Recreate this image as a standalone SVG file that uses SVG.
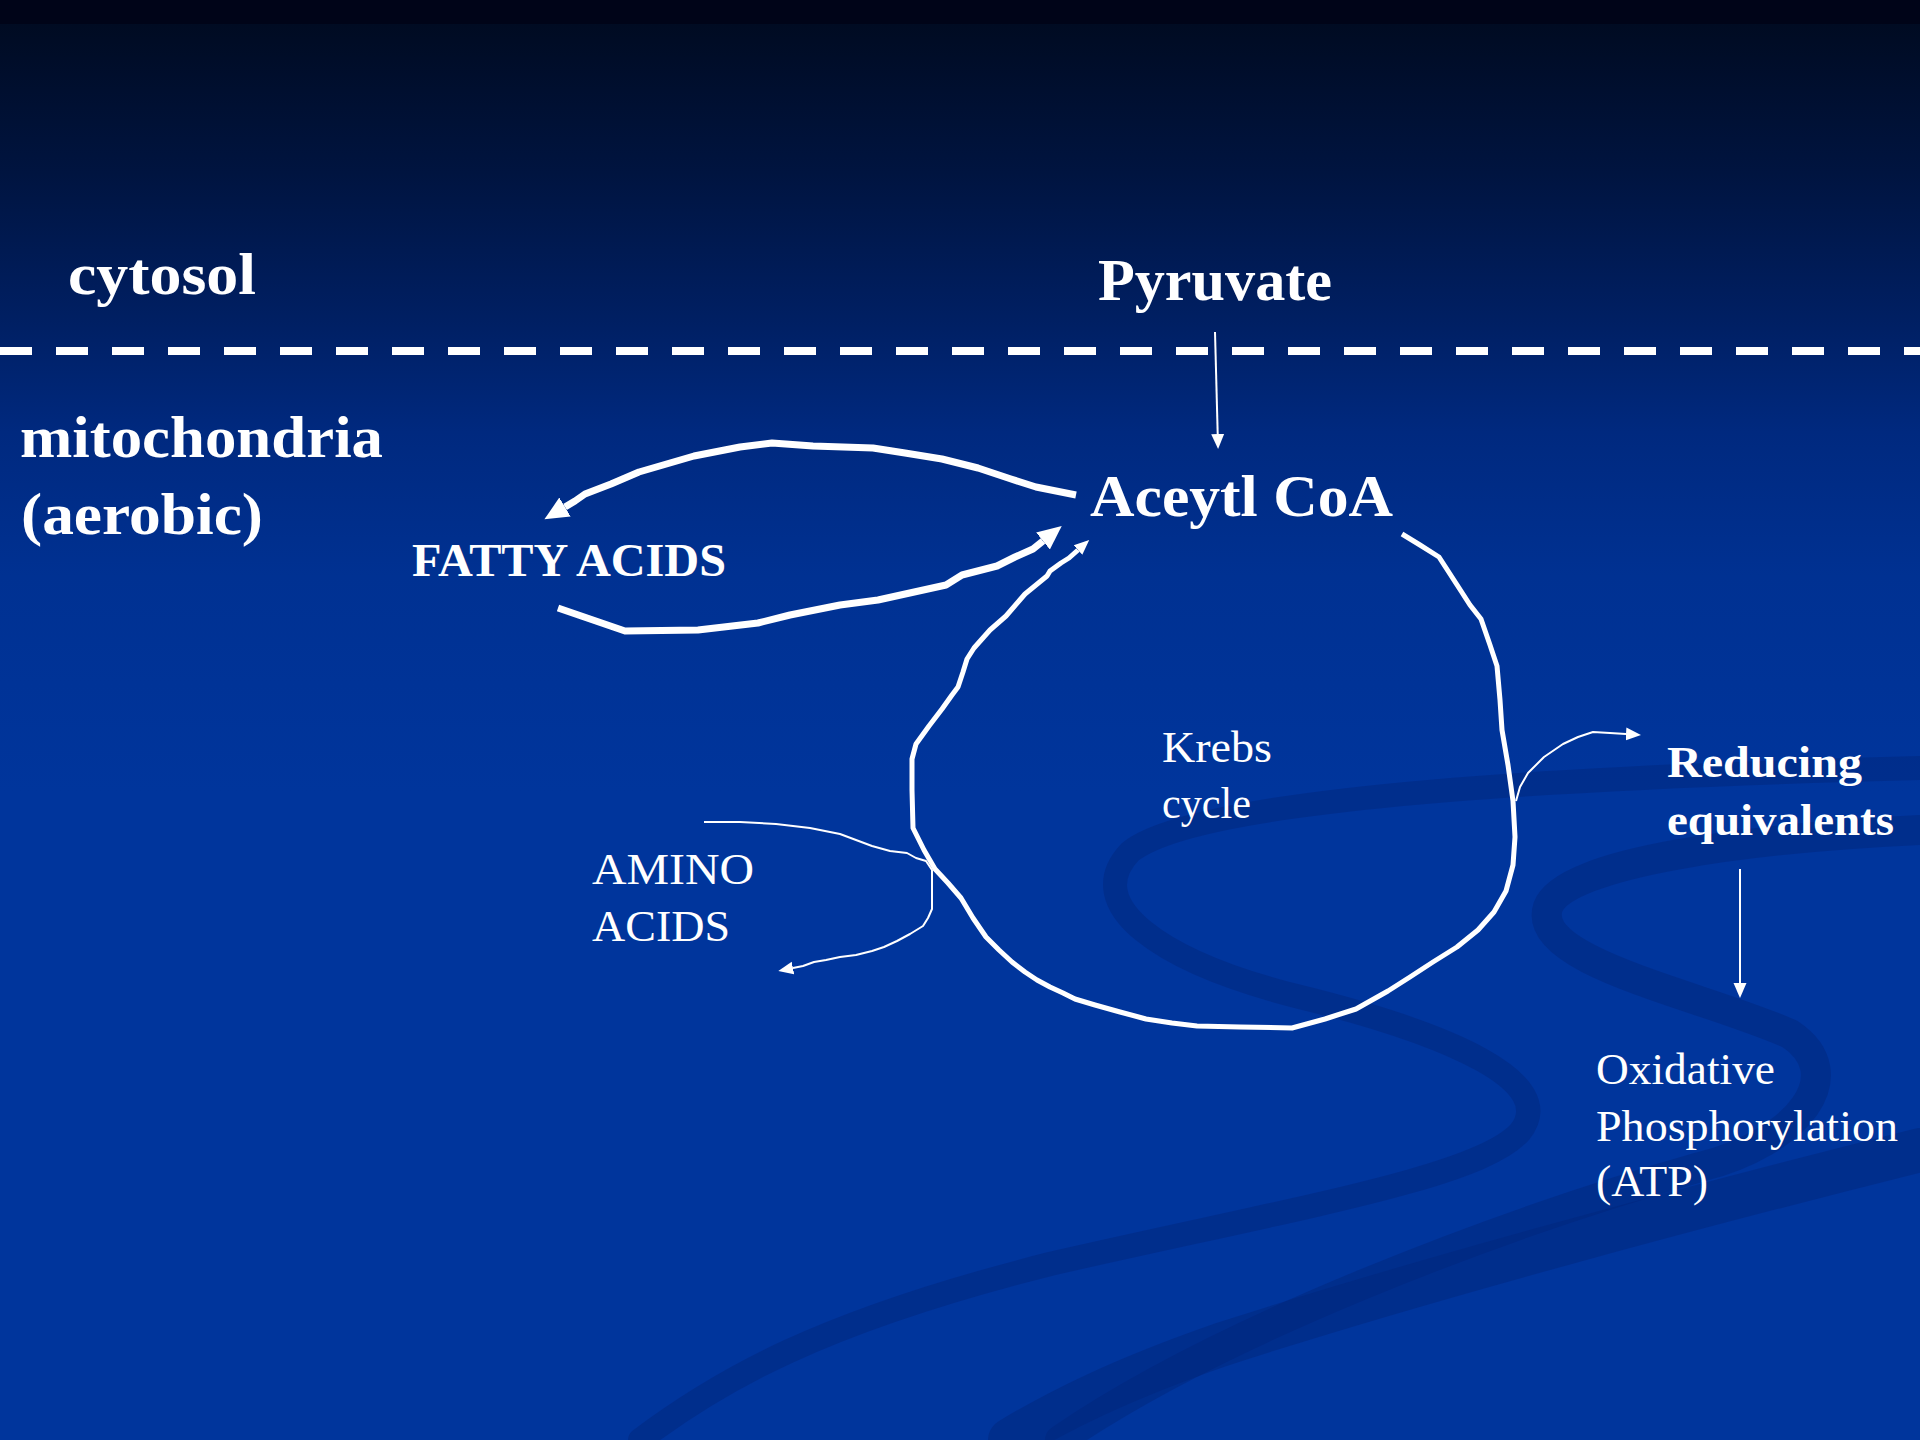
<svg xmlns="http://www.w3.org/2000/svg" width="1920" height="1440" viewBox="0 0 1920 1440">
  <defs>
    <linearGradient id="bg" x1="0" y1="0" x2="0" y2="1440" gradientUnits="userSpaceOnUse">
      <stop offset="0" stop-color="#000418"/>
      <stop offset="0.0166" stop-color="#000418"/>
      <stop offset="0.0167" stop-color="#000b22"/>
      <stop offset="0.12" stop-color="#001440"/>
      <stop offset="0.22" stop-color="#001f62"/>
      <stop offset="0.30" stop-color="#00297f"/>
      <stop offset="0.40" stop-color="#003192"/>
      <stop offset="0.55" stop-color="#00359c"/>
      <stop offset="1" stop-color="#00359c"/>
    </linearGradient>
    <marker id="ahS" viewBox="0 -8 16 16" refX="0" refY="0" markerWidth="16" markerHeight="16" markerUnits="userSpaceOnUse" orient="auto">
      <path d="M0,-6.5 L15,0 L0,6.5 z" fill="#ffffff"/>
    </marker>
    <marker id="ahL" viewBox="0 -12 25 24" refX="0" refY="0" markerWidth="25" markerHeight="24" markerUnits="userSpaceOnUse" orient="auto">
      <path d="M0,-11 L24,0 L0,11 z" fill="#ffffff"/>
    </marker>
  </defs>
  <style>
    .bold { font-family: "Liberation Serif", "DejaVu Serif", serif; font-weight: bold; fill: #ffffff; }
    .reg { font-family: "Liberation Serif", "DejaVu Serif", serif; font-weight: normal; fill: #ffffff; font-size: 45px; }
    .swoosh { fill: none; stroke: #00267a; stroke-opacity: 0.45; stroke-linecap: round; }
    .thick { fill: none; stroke: #ffffff; stroke-width: 7; stroke-linejoin: round; }
    .mid { fill: none; stroke: #ffffff; stroke-width: 5; stroke-linejoin: round; }
    .thin { fill: none; stroke: #ffffff; stroke-width: 2; stroke-linejoin: round; }
  </style>

  <rect x="0" y="0" width="1920" height="1440" fill="url(#bg)"/>

  <g id="background-swooshes">
    <path class="swoosh" stroke-width="24" d="M1920,768 C1600,776 1200,795 1130,852 C1080,905 1160,962 1300,997 C1450,1034 1560,1082 1520,1132 C1480,1177 1300,1207 1050,1264 C820,1322 720,1380 640,1440"/>
    <path class="swoosh" stroke-width="30" d="M1920,830 C1750,838 1565,862 1548,907 C1530,962 1700,994 1790,1034 C1850,1074 1800,1142 1700,1167 C1500,1224 1220,1330 1060,1440"/>
    <path class="swoosh" stroke-width="44" d="M1920,1150 C1700,1205 1420,1280 1220,1345 C1120,1380 1060,1410 1010,1440"/>
  </g>

  <g id="membrane">
    <line x1="0" y1="351" x2="1920" y2="351" stroke="#ffffff" stroke-width="8" stroke-dasharray="32 24"/>
  </g>

  <g id="node-cytosol"><text class="bold" x="68" y="294" font-size="60" textLength="188" lengthAdjust="spacingAndGlyphs">cytosol</text></g>
  <g id="node-pyruvate"><text class="bold" x="1098" y="300" font-size="60" textLength="234" lengthAdjust="spacingAndGlyphs">Pyruvate</text></g>
  <g id="node-mitochondria">
    <text class="bold" x="20" y="457" font-size="60" textLength="363" lengthAdjust="spacingAndGlyphs">mitochondria</text>
    <text class="bold" x="21" y="534" font-size="60" textLength="242" lengthAdjust="spacingAndGlyphs">(aerobic)</text>
  </g>
  <g id="node-acetylcoa"><text class="bold" x="1090" y="516" font-size="60" textLength="303" lengthAdjust="spacingAndGlyphs">Aceytl CoA</text></g>
  <g id="node-fattyacids"><text class="bold" x="412" y="576" font-size="46" textLength="314" lengthAdjust="spacingAndGlyphs">FATTY ACIDS</text></g>
  <g id="node-krebs">
    <text class="reg" x="1162" y="762" textLength="110" lengthAdjust="spacingAndGlyphs">Krebs</text>
    <text class="reg" x="1162" y="818" textLength="89" lengthAdjust="spacingAndGlyphs">cycle</text>
  </g>
  <g id="node-aminoacids">
    <text class="reg" x="592" y="884" font-size="46" textLength="162" lengthAdjust="spacingAndGlyphs">AMINO</text>
    <text class="reg" x="592" y="941" font-size="46" textLength="138" lengthAdjust="spacingAndGlyphs">ACIDS</text>
  </g>
  <g id="node-reducing">
    <text class="bold" x="1667" y="777" font-size="45" textLength="195" lengthAdjust="spacingAndGlyphs">Reducing</text>
    <text class="bold" x="1667" y="835" font-size="45" textLength="227" lengthAdjust="spacingAndGlyphs">equivalents</text>
  </g>
  <g id="node-oxphos">
    <text class="reg" x="1596" y="1084" font-size="48" textLength="179" lengthAdjust="spacingAndGlyphs">Oxidative</text>
    <text class="reg" x="1596" y="1141" font-size="48" textLength="302" lengthAdjust="spacingAndGlyphs">Phosphorylation</text>
    <text class="reg" x="1596" y="1196" font-size="48" textLength="112" lengthAdjust="spacingAndGlyphs">(ATP)</text>
  </g>

  <g id="connectors">
    <path id="pyruvate-to-acetylcoa" class="thin" marker-end="url(#ahS)" d="M1215,332 L1217.7,434"/>
    <path id="acetylcoa-to-fattyacids" class="thick" marker-end="url(#ahL)" d="M1076,495 L1036,487 L1011,479 L978,468 L942,459 L905,453 L873,448 L813,446 L772,443 L740,447 L694,456 L639,472 L611,484 L585,494 L575,501 L565,507"/>
    <path id="fattyacids-to-acetylcoa" class="thick" marker-end="url(#ahL)" d="M558,608 L625,631 L698,630 L758,623 L790,615 L840,605 L878,600 L946,585 L962,575 L997,566 L1015,557 L1033,549 L1043,541"/>
    <path id="krebs-cycle" class="mid" marker-end="url(#ahS)" d="M1402,534 L1420,545 L1439,557 L1450,574 L1461,591 L1470,605 L1481,619 L1490,645 L1497,666 L1500,700 L1502,730 L1508,765 L1513,801 L1515,837 L1513,865 L1506,891 L1494,912 L1478,930 L1457,947 L1433,962 L1410,977 L1388,991 L1372,1000 L1356,1009 L1325,1019 L1292,1028 L1240,1027 L1197,1026 L1172,1023 L1146,1019 L1120,1012 L1095,1005 L1075,999 L1063,993 L1050,987 L1037,980 L1025,972 L1012,962 L999,950 L986,937 L973,918 L961,898 L948,883 L935,869 L924,850 L913,828 L912,790 L912,759 L916,744 L929,726 L942,709 L952,695 L958,687 L963,672 L967,659 L974,648 L990,630 L1006,616 L1025,594 L1047,576 L1050,571 L1061,563 L1069,558 L1078,550"/>
    <path id="krebs-to-aminoacids" class="thin" marker-end="url(#ahS)" d="M704,822 L740,822 L776,824 L810,828 L840,834 L856,840 L872,846 L890,851 L907,853 L916,858 L926,861 L932,870 L932,890 L932,909 L928,918 L923,926 L910,934 L897,941 L884,947 L872,951 L856,955 L840,957 L826,960 L814,962 L803,966 L793,968"/>
    <path id="krebs-to-reducing" class="thin" marker-end="url(#ahS)" d="M1516,801 L1520,787 L1528,773 L1544,757 L1563,744 L1578,737 L1593,732 L1610,733 L1626,734"/>
    <path id="reducing-to-oxphos" class="thin" marker-end="url(#ahS)" d="M1740,869 L1740,983"/>
  </g>
</svg>
